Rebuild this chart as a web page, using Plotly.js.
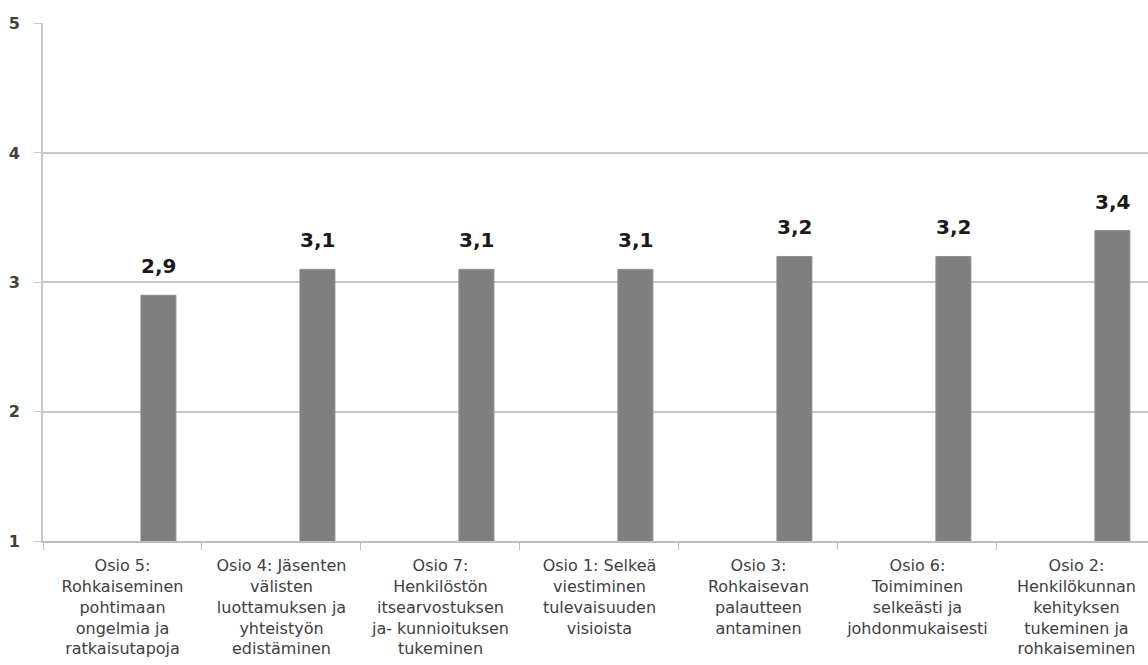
<!DOCTYPE html>
<html>
<head>
<meta charset="utf-8">
<script src="https://cdn.plot.ly/plotly-3.0.1.min.js"></script>
<style>html,body{margin:0;padding:0;background:#fff;}#chart{width:1148px;height:665px;}</style>
</head>
<body>
<div id="chart"></div>
<script>
const categories = [
  "Osio 5:<br>Rohkaiseminen<br>pohtimaan<br>ongelmia ja<br>ratkaisutapoja",
  "Osio 4: Jäsenten<br>välisten<br>luottamuksen ja<br>yhteistyön<br>edistäminen",
  "Osio 7:<br>Henkilöstön<br>itsearvostuksen<br>ja- kunnioituksen<br>tukeminen",
  "Osio 1: Selkeä<br>viestiminen<br>tulevaisuuden<br>visioista",
  "Osio 3:<br>Rohkaisevan<br>palautteen<br>antaminen",
  "Osio 6:<br>Toimiminen<br>selkeästi ja<br>johdonmukaisesti",
  "Osio 2:<br>Henkilökunnan<br>kehityksen<br>tukeminen ja<br>rohkaiseminen"
];
const values = [2.9, 3.1, 3.1, 3.1, 3.2, 3.2, 3.4];
const valueLabels = ["2,9", "3,1", "3,1", "3,1", "3,2", "3,2", "3,4"];
const yTicks = [1, 2, 3, 4, 5];

const barOffset = 0.116, barWidth = 0.22;

const trace = {
  type: "bar",
  x: categories,
  y: values,
  base: 0,
  offset: barOffset,
  width: barWidth,
  marker: {color: "#7f7f7f", line: {color: "#8c8c8c", width: 1}},
  hoverinfo: "skip"
};

const annotations = values.map((v, i) => ({
  x: i + barOffset + barWidth / 2,
  y: v,
  xref: "x", yref: "y",
  text: valueLabels[i],
  showarrow: false,
  yanchor: "bottom",
  yshift: 15,
  font: {family: "DejaVu Sans, sans-serif", size: 20, color: "#1a1a1a", weight: "bold"}
}));

const layout = {
  width: 1148, height: 665,
  margin: {l: 43, r: 0, t: 23, b: 124},
  paper_bgcolor: "#ffffff",
  plot_bgcolor: "#ffffff",
  showlegend: false,
  bargap: 0,
  xaxis: {
    type: "category",
    range: [-0.5, 6.45],
    tickson: "boundaries",
    ticks: "outside",
    ticklen: 7,
    tickcolor: "#bdbdbd",
    ticklabelstandoff: 9,
    showline: true,
    linecolor: "#bdbdbd",
    linewidth: 2,
    showgrid: false,
    tickangle: 0,
    tickfont: {family: "DejaVu Sans, sans-serif", size: 16, color: "#404040"}
  },
  yaxis: {
    range: [1, 5.005],
    tickvals: yTicks,
    ticktext: yTicks.map(String),
    ticks: "outside",
    ticklen: 7,
    tickcolor: "#c8c8c8",
    ticklabelstandoff: 11,
    showline: true,
    linecolor: "#c8c8c8",
    linewidth: 2,
    showgrid: true,
    gridcolor: "#c8c8c8",
    gridwidth: 2,
    zeroline: false,
    tickfont: {family: "DejaVu Sans, sans-serif", size: 16, color: "#404040", weight: "bold"}
  },
  annotations: annotations
};

Plotly.newPlot("chart", [trace], layout, {displayModeBar: false, staticPlot: true});
</script>
</body>
</html>
